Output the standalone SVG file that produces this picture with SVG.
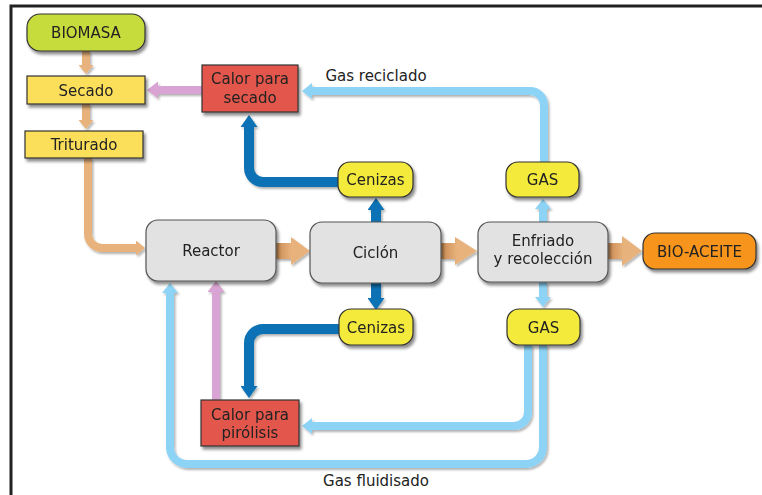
<svg xmlns="http://www.w3.org/2000/svg" width="762" height="495" viewBox="0 0 762 495">
<style>
text{font-family:"DejaVu Sans",Verdana,sans-serif;font-size:15px;fill:#222;text-anchor:middle}
.box{stroke:#333;stroke-width:1.2}
.gray{fill:#e2e2e2;stroke:#555;stroke-width:1.2}
.lime{fill:#c6dc3c}
.yel{fill:#fbdf5a}
.yel2{fill:#f3ea3a}
.red{fill:#e2574c}
.org{fill:#f7941d}
.tan{fill:none;stroke:#e8b27c;stroke-width:8}
.dblue{fill:none;stroke:#0b72b5;stroke-width:10}
.lblue{fill:none;stroke:#8dd3f5;stroke-width:8}
.pink{fill:none;stroke:#d9a3d3;stroke-width:8}
</style>
<defs>
<filter id="sh" x="-20%" y="-20%" width="150%" height="160%">
<feDropShadow dx="2" dy="3" stdDeviation="1.5" flood-color="#000" flood-opacity="0.45"/>
</filter>
<filter id="sh2" x="-20%" y="-20%" width="150%" height="160%">
<feDropShadow dx="1.5" dy="2" stdDeviation="1.2" flood-color="#000" flood-opacity="0.3"/>
</filter>
<linearGradient id="tg" x1="0" y1="0" x2="1" y2="0">
<stop offset="0" stop-color="#c98a52"/><stop offset="0.45" stop-color="#e8b27c"/>
</linearGradient>
<marker id="mTan" viewBox="0 0 9 15" refX="0" refY="7.5" markerWidth="9" markerHeight="15" orient="auto" markerUnits="userSpaceOnUse"><path d="M0,0 L9,7.5 L0,15 Z" fill="#e8b27c"/></marker>
<marker id="mDb" viewBox="0 0 12 17" refX="0" refY="8.5" markerWidth="12" markerHeight="17" orient="auto" markerUnits="userSpaceOnUse"><path d="M0,0 L12,8.5 L0,17 Z" fill="#0b72b5"/></marker>
<marker id="mLb" viewBox="0 0 10 16" refX="0" refY="8" markerWidth="10" markerHeight="16" orient="auto" markerUnits="userSpaceOnUse"><path d="M0,0 L10,8 L0,16 Z" fill="#8dd3f5"/></marker>
<marker id="mPk" viewBox="0 0 11 17" refX="0" refY="8.5" markerWidth="11" markerHeight="17" orient="auto" markerUnits="userSpaceOnUse"><path d="M0,0 L11,8.5 L0,17 Z" fill="#d9a3d3"/></marker>
</defs>
<rect x="0" y="0" width="762" height="495" fill="#fff"/>
<path d="M11,495 V6 H762" fill="none" stroke="#222" stroke-width="3"/>

<g id="connectors" filter="url(#sh2)">
<path class="tan" d="M86,51 V65" marker-end="url(#mTan)"/>
<path class="tan" d="M86,104 V120" marker-end="url(#mTan)"/>
<path class="tan" d="M88,158 V234 A14,14 0 0 0 102,248 H136" marker-end="url(#mTan)"/>
<path class="pink" d="M202,90 H158" marker-end="url(#mPk)"/>
<polygon points="276,243 291,243 291,237 310,251 291,265 291,259 276,259" fill="url(#tg)"/>
<polygon points="441,243 455,243 455,237 477,251 455,265 455,259 441,259" fill="url(#tg)"/>
<polygon points="608,243 622,243 622,236 642,251 622,266 622,259 608,259" fill="url(#tg)"/>
<path class="dblue" d="M376,222 V210" stroke-width="8" marker-end="url(#mDb)"/>
<path class="dblue" d="M376,283 V298" stroke-width="8" marker-end="url(#mDb)"/>
<path class="dblue" d="M338,182 H263 A14,14 0 0 1 249,168 V127" marker-end="url(#mDb)"/>
<path class="dblue" d="M339,329 H263 A14,14 0 0 0 249,343 V386" marker-end="url(#mDb)"/>
<path class="lblue" d="M543,222 V209" marker-end="url(#mLb)"/>
<path class="lblue" d="M543,282 V297" marker-end="url(#mLb)"/>
<path class="lblue" d="M544,162 V105 A14,14 0 0 0 530,91 H312" marker-end="url(#mLb)"/>
<path class="lblue" d="M528,345 V412 A14,14 0 0 1 514,426 H312" marker-end="url(#mLb)"/>
<path class="lblue" d="M543,345 V447 A17,17 0 0 1 526,464 H187 A17,17 0 0 1 170,447 V293" marker-end="url(#mLb)"/>
<path class="pink" d="M216,400 V292" marker-end="url(#mPk)"/>
</g>
<text x="376" y="81">Gas reciclado</text>
<text x="376" y="486">Gas fluidisado</text>

<g id="biomasa" filter="url(#sh)"><rect class="box lime" x="27" y="14" width="118" height="37" rx="13"/><text x="86" y="38">BIOMASA</text></g>
<g id="secado" filter="url(#sh)"><rect class="box yel" x="27" y="76" width="118" height="28"/><text x="86" y="95.5">Secado</text></g>
<g id="triturado" filter="url(#sh)"><rect class="box yel" x="25" y="131" width="118" height="27"/><text x="84" y="150">Triturado</text></g>
<g id="calor-secado" filter="url(#sh)"><rect class="box red" x="202" y="65" width="96" height="47"/><text x="250" y="84">Calor para</text><text x="250" y="103">secado</text></g>
<g id="reactor" filter="url(#sh)"><rect class="gray" x="146" y="220" width="130" height="61" rx="12"/><text x="211" y="256">Reactor</text></g>
<g id="ciclon" filter="url(#sh)"><rect class="gray" x="310" y="222" width="131" height="61" rx="12"/><text x="375.5" y="258">Ciclón</text></g>
<g id="enfriado" filter="url(#sh)"><rect class="gray" x="478" y="222" width="130" height="60" rx="12"/><text x="543" y="246">Enfriado</text><text x="543" y="264">y recolección</text></g>
<g id="bio-aceite" filter="url(#sh)"><rect class="box org" x="643" y="233" width="113" height="36" rx="12"/><text x="699.5" y="257">BIO-ACEITE</text></g>
<g id="cenizas-top" filter="url(#sh)"><rect class="box yel2" x="338" y="162" width="75" height="35" rx="12"/><text x="375.5" y="185">Cenizas</text></g>
<g id="gas-top" filter="url(#sh)"><rect class="box yel2" x="506" y="162" width="73" height="35" rx="12"/><text x="542.5" y="185">GAS</text></g>
<g id="cenizas-bottom" filter="url(#sh)"><rect class="box yel2" x="339" y="309" width="74" height="36" rx="12"/><text x="376" y="332.5">Cenizas</text></g>
<g id="gas-bottom" filter="url(#sh)"><rect class="box yel2" x="507" y="309" width="73" height="36" rx="12"/><text x="543.5" y="332.5">GAS</text></g>
<g id="calor-pirolisis" filter="url(#sh)"><rect class="box red" x="201" y="400" width="98" height="46"/><text x="250" y="420">Calor para</text><text x="250" y="438">pirólisis</text></g>
</svg>
